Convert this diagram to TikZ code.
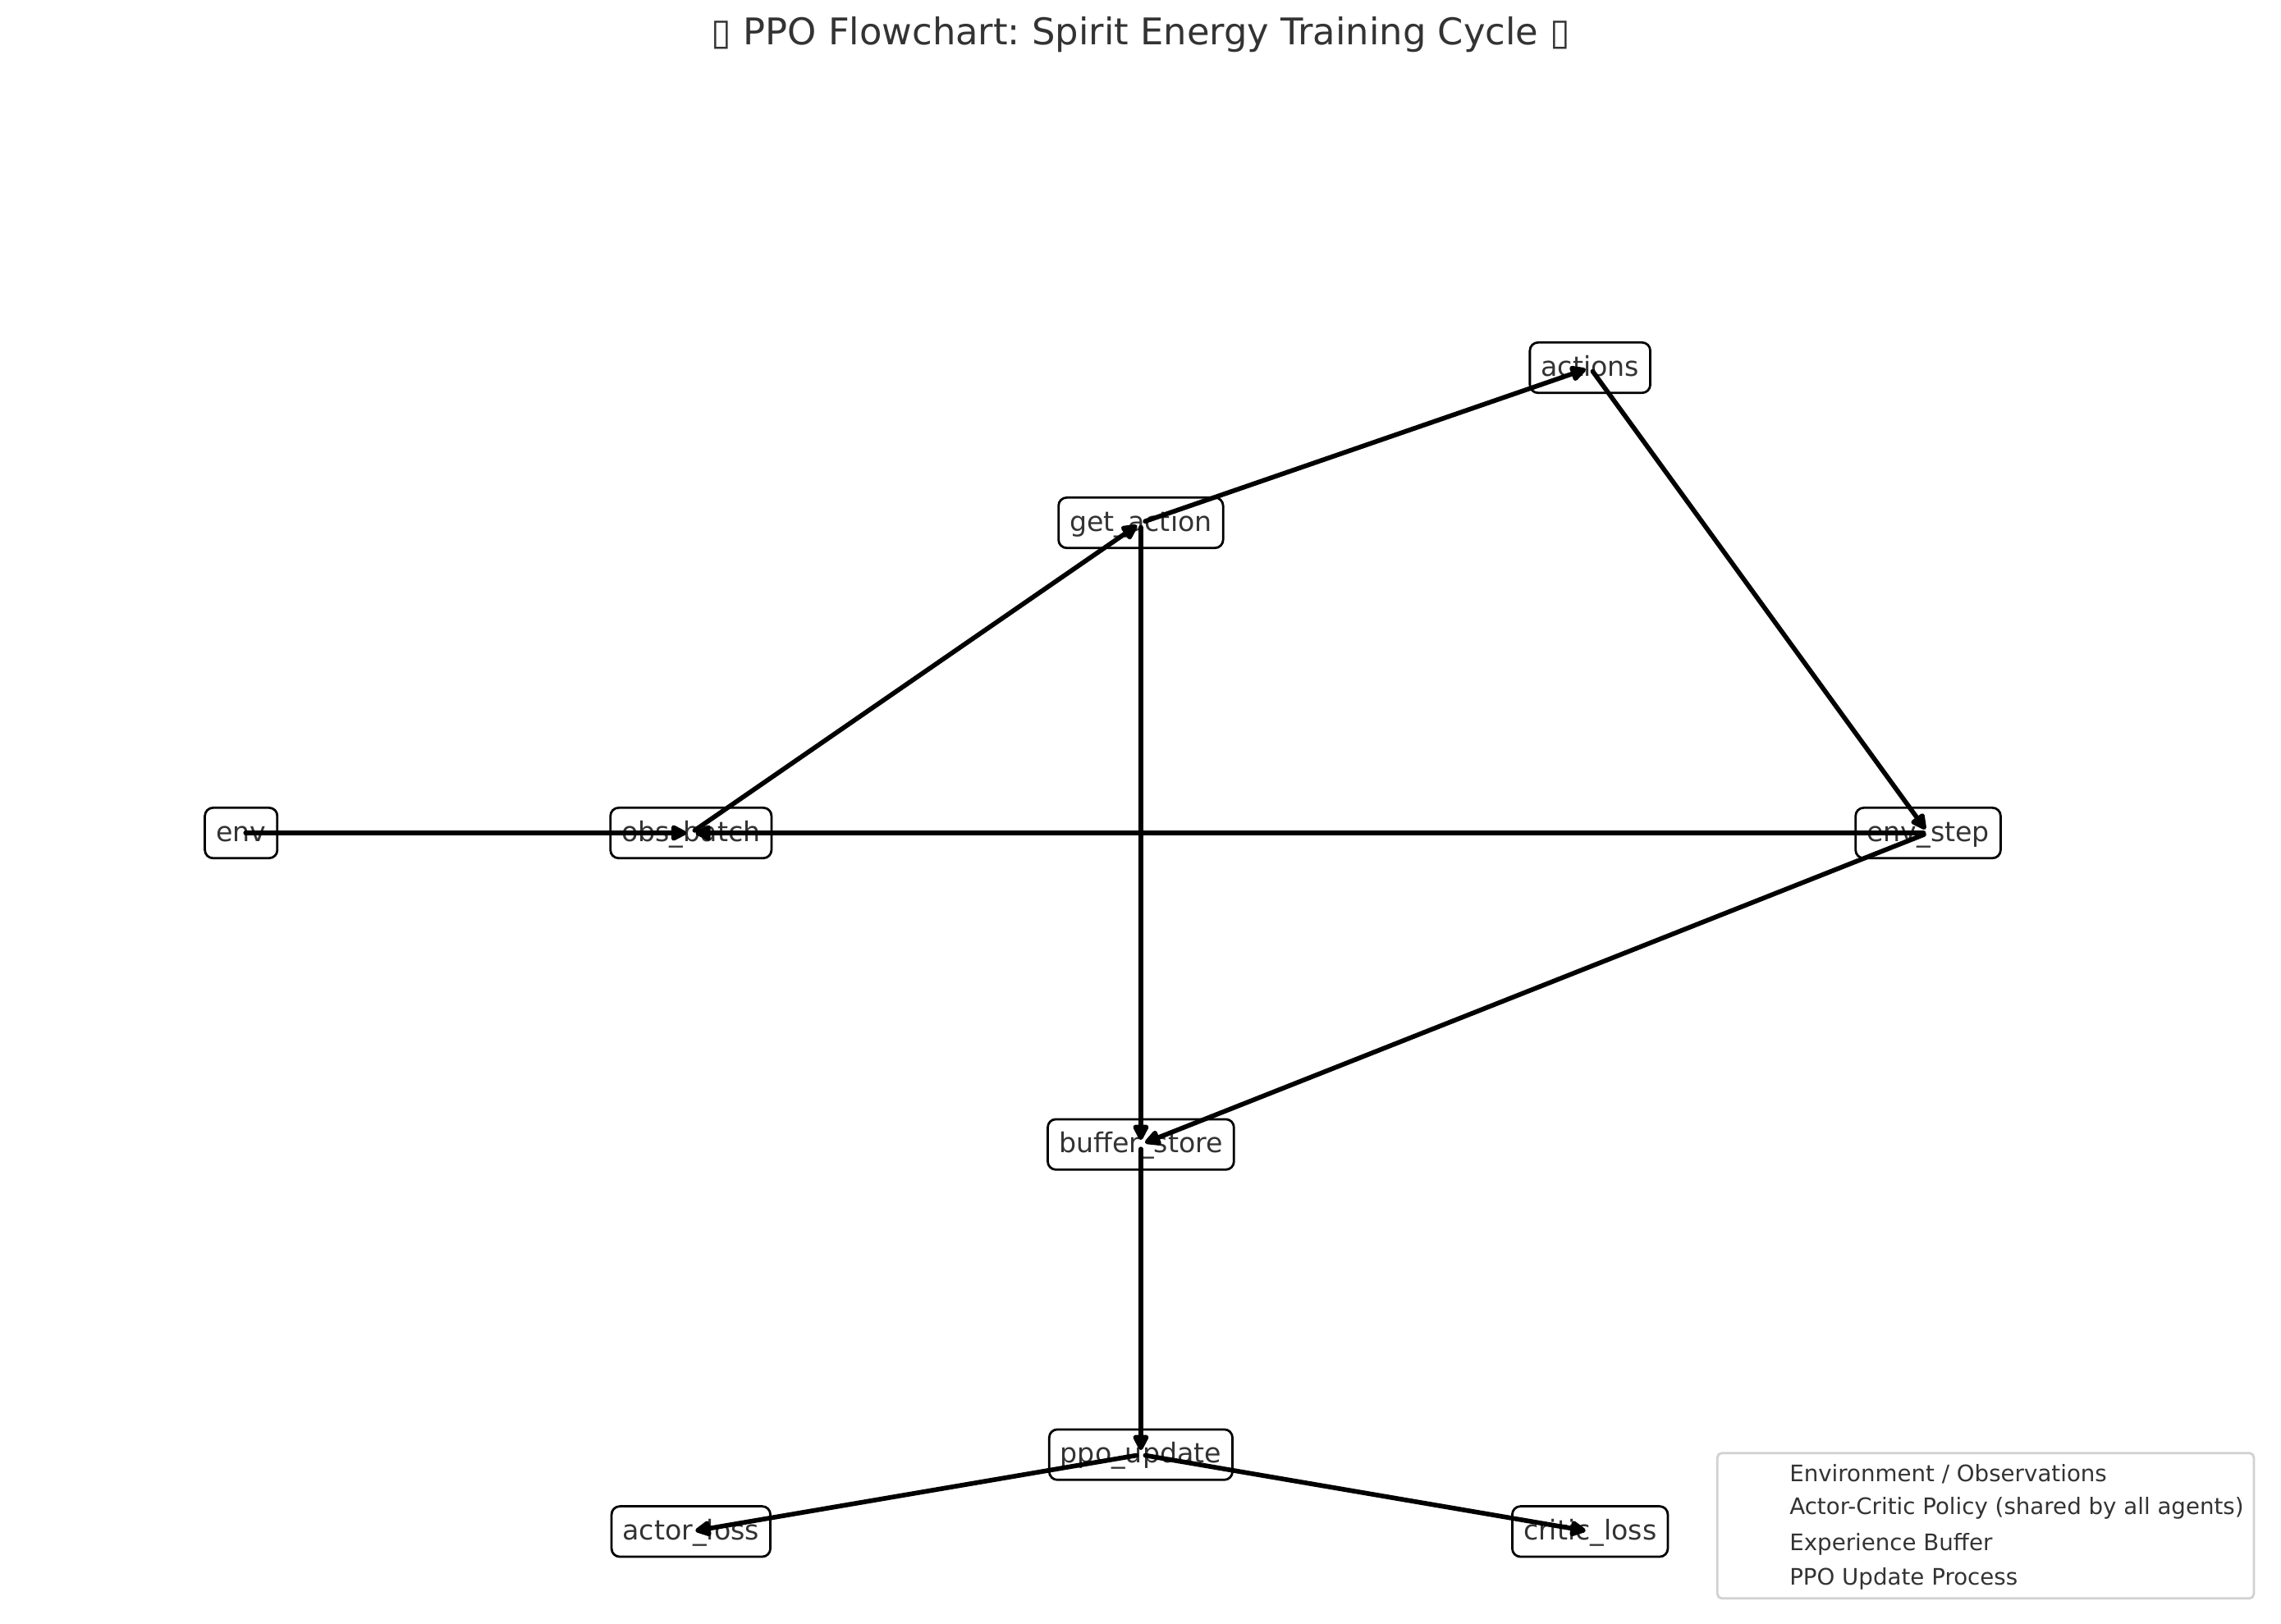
\documentclass[tikz,border=0pt]{standalone}
\usepackage{fontspec}
\setmainfont{DejaVu Sans}
\usetikzlibrary{positioning, arrows.meta}
\frenchspacing

\begin{document}
\begin{tikzpicture}[
  stage/.style   = {draw=black, line width=1pt, rounded corners=3.6pt, fill=white, inner xsep=4.9pt, inner ysep=0pt,
                    minimum height=0.78cm, font=\fontsize{12}{14}\selectfont, text=black!80,
                    text height=9.55pt, text depth=2.25pt},
  arr/.style     = {-{Triangle[length=8pt, width=7.5pt, round]}, line width=2.05pt, line cap=round,
                    shorten <=2pt, shorten >=2pt},
  legbox/.style  = {draw=black!18, line width=1pt, rounded corners=2pt, fill=white,
                    minimum width=8.30cm, minimum height=2.25cm},
  legitem/.style = {anchor=west, inner sep=0pt, font=\fontsize{10}{12}\selectfont, text=black!80},
]
\useasboundingbox (0,0) rectangle (35.29,25.13);

% ---- title ------------------------------------------------------------------
\node[font=\fontsize{16.2}{19}\selectfont, text=black!80] (title) at (17.65,24.59)
  {▯ PPO Flowchart: Spirit Energy Training Cycle ▯};

% ---- the stages -------------------------------------------------------------
\node[stage] (env)     at ( 3.73,12.24) {env};
\node[stage] (obs)     at (10.69,12.24) {obs\_batch};
\node[stage] (getAct)  at (17.65,17.04) {get\_action};
\node[stage] (acts)    at (24.60,19.44) {actions};
\node[stage] (envStep) at (29.83,12.24) {env\_step};
\node[stage] (buf)     at (17.65, 7.42) {buffer\_store};
\node[stage] (ppo)     at (17.65, 2.62) {ppo\_update};
\node[stage] (actor)   at (10.69, 1.43) {actor\_loss};
\node[stage] (critic)  at (24.60, 1.43) {critic\_loss};

% ---- the cycle --------------------------------------------------------------
\draw[arr] (env.center)     -- (obs.center);
\draw[arr] (obs.center)     -- (getAct.center);
\draw[arr] (getAct.center)  -- (acts.center);
\draw[arr] (acts.center)    -- (envStep.center);
\draw[arr] (envStep.center) -- (obs.center);
\draw[arr] (getAct.center)  -- (buf.center);
\draw[arr] (envStep.center) -- (buf.center);
\draw[arr] (buf.center)     -- (ppo.center);
\draw[arr] (ppo.center)     -- (actor.center);
\draw[arr] (ppo.center)     -- (critic.center);

% ---- legend -----------------------------------------------------------------
\node[legbox] (leg) at (30.72,1.52) {};
\node[legitem] (legEnv) at (27.68,2.315) {Environment / Observations};
\node[legitem] (legPol) at (27.68,1.785) {Actor-Critic Policy (shared by all agents)};
\node[legitem] (legBuf) at (27.68,1.23) {Experience Buffer};
\node[legitem] (legPPO) at (27.68,0.70) {PPO Update Process};

\end{tikzpicture}
\end{document}
